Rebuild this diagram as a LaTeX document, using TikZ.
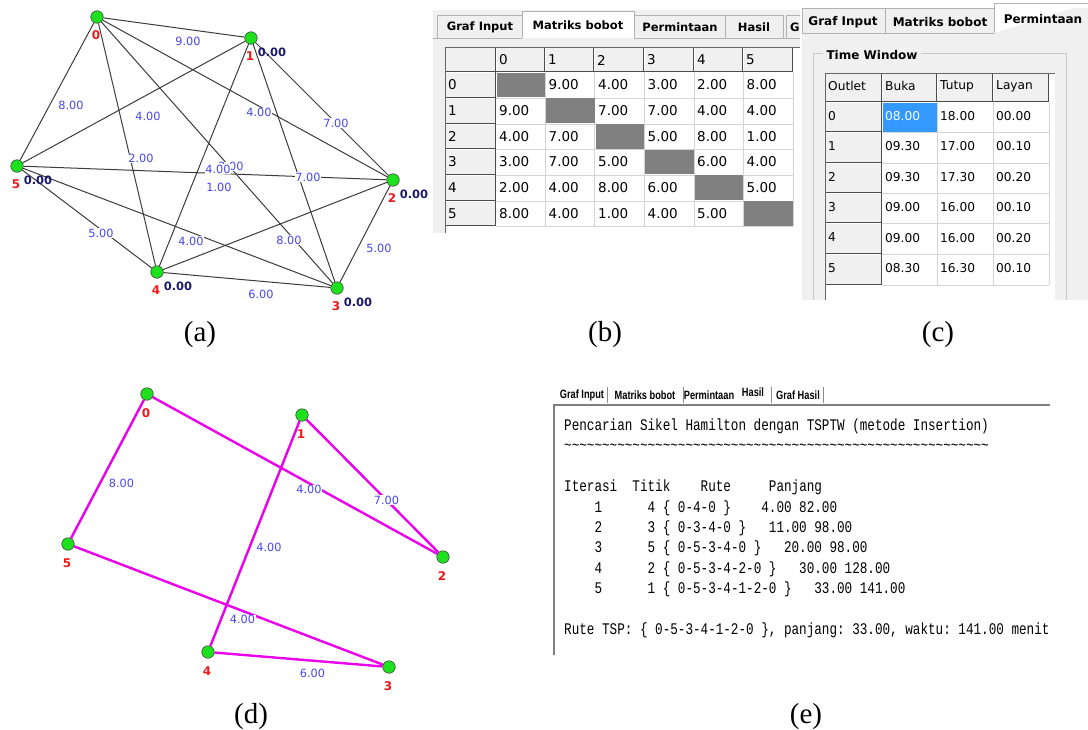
\documentclass[tikz,border=0pt]{standalone}
\usepackage{fontspec}
\setmainfont{Liberation Serif}
\newfontfamily\uifont{DejaVu Sans}
\newfontfamily\monofont[FakeStretch=0.78]{Liberation Mono}
\newfontfamily\tabfont[FakeStretch=0.77]{Liberation Sans}
\usetikzlibrary{calc}
\definecolor{lblue}{RGB}{70,70,240}
\definecolor{navyc}{RGB}{25,25,110}
\definecolor{nred}{RGB}{240,25,25}
\definecolor{ngreen}{RGB}{30,225,30}
\definecolor{mag}{RGB}{235,0,235}
\definecolor{uig}{RGB}{240,240,240}
\definecolor{gridc}{RGB}{212,212,212}
\definecolor{diagc}{RGB}{128,128,128}
\definecolor{selc}{RGB}{51,153,255}
\definecolor{edgec}{RGB}{60,60,60}
\newcommand\fs[1]{\fontsize{#1}{#1}\selectfont}
\newcommand\tlx{\string~\string~\string~\string~\string~\string~\string~\string~}
\newcommand\hcell[4]{%
  \fill[uig] (#1,#2) rectangle (#3,#4);
  \draw[white,line width=1] (#1+0.5,#4) -- (#1+0.5,#2+0.5) -- (#3,#2+0.5);
  \draw[black!70,line width=1.3] (#3-0.6,#2) -- (#3-0.6,#4-0.6) -- (#1,#4-0.6);}
\tikzset{
 vtx/.style={circle,fill=ngreen,draw=black!75,line width=0.6,minimum size=12.5,inner sep=0},
 nlab/.style={text=nred,font=\uifont\bfseries\fs{12},inner sep=0},
 zlab/.style={text=navyc,font=\uifont\bfseries\fs{11.5},inner sep=0},
 wlab/.style={text=lblue,fill=white,inner sep=0.6,font=\uifont\fs{11.3}},
 gedge/.style={draw=edgec,line width=1},
 pedge/.style={draw=mag,line width=2.4},
 caplab/.style={font=\fs{29}},
 btxt/.style={anchor=west,font=\uifont\fs{13.5},inner sep=0},
 ctxt/.style={anchor=west,font=\uifont\fs{12.2},inner sep=0},
 tabt/.style={font=\uifont\bfseries\fs{11.5},inner sep=0},
 ctabt/.style={font=\uifont\bfseries\fs{12},inner sep=0},
 mtxt/.style={anchor=west,font=\monofont\frenchspacing\fs{16.2},inner sep=0,text height=10,text depth=3},
 etab/.style={font=\tabfont\bfseries\fs{12},inner sep=0},
 tabedge/.style={draw=black!30,line width=0.8},
}
\begin{document}
\begin{tikzpicture}[x=1pt,y=-1pt]
\useasboundingbox (0,0) rectangle (1088,729);
\fill[white] (0,0) rectangle (1088,729);

% ================= (a) complete graph =================
\node[vtx] (a0) at (97,17) {};
\node[vtx] (a1) at (251,38) {};
\node[vtx] (a2) at (393,180) {};
\node[vtx] (a3) at (337,288) {};
\node[vtx] (a4) at (157,272) {};
\node[vtx] (a5) at (17,166) {};
\foreach \u/\v in {0/1,0/2,0/3,0/4,0/5,1/2,1/3,1/4,1/5,2/3,2/4,2/5,3/4,3/5,4/5}
  \draw[gedge] (a\u) -- (a\v);
\foreach \u/\v/\w in {0/1/9.00,0/2/4.00,0/3/3.00,0/4/2.00,0/5/8.00,1/2/7.00,1/3/7.00,1/4/4.00,1/5/4.00,2/3/5.00,2/4/8.00,2/5/1.00,3/4/6.00,3/5/4.00,4/5/5.00}
  \node[wlab] (aw\u\v) at ($(a\u)!0.5!(a\v)+(14,14)$) {\w};
\foreach \i in {0,...,5}
  \node[nlab] (an\i) at ($(a\i)+(-1,18)$) {\i};
\foreach \i in {1,...,5}
  \node[zlab] (az\i) at ($(a\i)+(21,14)$) {0.00};
\node[caplab] (capa) at (200,335) {(a)};

% ================= (b) weight matrix =================
\fill[uig] (433,10) rectangle (800,233);
\begin{scope}
\clip (433,0) rectangle (800,240);
\draw[tabedge,fill=uig] (437,38) -- (437,15) -- (522,15) -- (522,38);
\draw[tabedge,fill=uig] (634,38) -- (634,15) -- (725,15) -- (725,38);
\draw[tabedge,fill=uig] (725,38) -- (725,15) -- (783,15) -- (783,38);
\draw[tabedge,fill=uig] (786,38) -- (786,15) -- (830,15) -- (830,38);
\draw[tabedge] (433,38) -- (522,38) (634,38) -- (800,38);
\draw[tabedge,fill=white] (522,38) -- (522,11) -- (634,11) -- (634,38);
\node[tabt] (bt1) at (480,27) {Graf Input};
\node[tabt] (bt2) at (578,25) {Matriks bobot};
\node[tabt] (bt3) at (680,27) {Permintaan};
\node[tabt] (bt4) at (754,27) {Hasil};
\node[tabt,anchor=west] (bt5) at (790,27) {G};
\fill[white] (445,47) rectangle (800,233);
\foreach \x in {545,594,644,694,743,793}
  \draw[gridc] (\x,72) -- (\x,226);
\foreach \y in {98,124,149,175,201,226}
  \draw[gridc] (496,\y) -- (793,\y);
\foreach \i in {0,...,5}
  \fill[diagc] (496+49.5*\i+0.5,72+25.67*\i+0.5) rectangle (496+49.5*\i+49,72+25.67*\i+25.2);
\hcell{445}{47}{496}{72}
\foreach \xa/\xb/\t in {496/545/0,545/594/1,594/644/2,644/694/3,694/743/4,743/793/5}{
  \hcell{\xa}{47}{\xb}{72}
  \node[btxt] at (\xa+3,60) {\t};
}
\foreach \ya/\yb/\t in {72/98/0,98/124/1,124/149/2,149/175/3,175/201/4,201/226/5}{
  \hcell{445}{\ya}{496}{\yb}
  \node[btxt] at (448,{(\ya+\yb)/2}) {\t};
}
\draw[black!60,line width=1] (445.5,233) -- (445.5,47.5) -- (800,47.5);
\foreach \r/\vals in {0/{{},9.00,4.00,3.00,2.00,8.00},1/{9.00,{},7.00,7.00,4.00,4.00},2/{4.00,7.00,{},5.00,8.00,1.00},3/{3.00,7.00,5.00,{},6.00,4.00},4/{2.00,4.00,8.00,6.00,{},5.00},5/{8.00,4.00,1.00,4.00,5.00,{}}}{
  \foreach \v [count=\c from 0] in \vals
    \node[btxt] at (496+49.5*\c+3,85+25.67*\r) {\v};
}
\end{scope}
\node[caplab] (capb) at (605,335) {(b)};

% ================= (c) time window =================
\fill[uig] (802,8) rectangle (1088,300);
\draw[tabedge,fill=uig] (802,33) -- (802,8) -- (885,8) -- (885,33);
\draw[tabedge,fill=uig] (885,33) -- (885,8) -- (994,8) -- (994,33);
\draw[tabedge] (802,33) -- (994,33);
\draw[tabedge,fill=white] (994,33) -- (994,3) -- (1090,3);
\node[ctabt] (ct1) at (843,22) {Graf Input};
\node[ctabt] (ct2) at (940,22) {Matriks bobot};
\node[ctabt] (ct3) at (1043,19) {Permintaan};
\draw[black!22,line width=1] (823,53) -- (813,53) -- (813,300) (921,53) -- (1066,53) -- (1066,300);
\node[ctabt] (ctw) at (872,55) {Time Window};
\fill[white] (825,73) rectangle (1055,300);
\foreach \x in {937,993,1049}
  \draw[gridc] (\x,102) -- (\x,285);
\foreach \y in {132,163,193,223,254,285}
  \draw[gridc] (882,\y) -- (1049,\y);
\fill[selc] (882.5,102.5) rectangle (937,132);
\hcell{825}{73}{882}{102}
\hcell{882}{73}{937}{102}
\hcell{937}{73}{993}{102}
\hcell{993}{73}{1049}{102}
\node[ctxt] at (828,86) {Outlet};
\node[ctxt] at (885,86) {Buka};
\node[ctxt] at (940,86) {Tutup};
\node[ctxt] at (996,86) {Layan};
\foreach \ya/\yb/\t in {102/132/0,132/163/1,163/193/2,193/223/3,223/254/4,254/285/5}{
  \hcell{825}{\ya}{882}{\yb}
  \node[ctxt] at (828,{(\ya+\yb)/2-1}) {\t};
}
\draw[black!60,line width=1] (825.5,300) -- (825.5,73.5) -- (1055,73.5);
\node[ctxt,text=white] at (885,116) {08.00};
\node[ctxt] at (940,116) {18.00};
\node[ctxt] at (996,116) {00.00};
\foreach \r/\a/\b/\c in {1/09.30/17.00/00.10,2/09.30/17.30/00.20,3/09.00/16.00/00.10,4/09.00/16.00/00.20,5/08.30/16.30/00.10}{
  \node[ctxt] at (885,116+30.5*\r) {\a};
  \node[ctxt] at (940,116+30.5*\r) {\b};
  \node[ctxt] at (996,116+30.5*\r) {\c};
}
\node[caplab] (capc) at (938,335) {(c)};

% ================= (d) result graph =================
\node[vtx] (d0) at (147,394) {};
\node[vtx] (d1) at (302,415) {};
\node[vtx] (d2) at (443,557) {};
\node[vtx] (d3) at (389,667) {};
\node[vtx] (d4) at (208,652) {};
\node[vtx] (d5) at (68,544) {};
\foreach \u/\v in {0/5,5/3,3/4,4/1,1/2,2/0}
  \draw[pedge] (d\u) -- (d\v);
\foreach \u/\v/\w in {0/5/8.00,5/3/4.00,3/4/6.00,4/1/4.00,1/2/7.00,2/0/4.00}
  \node[wlab] (dw\u\v) at ($(d\u)!0.5!(d\v)+(14,14)$) {\w};
\foreach \i in {0,...,5}
  \node[nlab] (dn\i) at ($(d\i)+(-1,19)$) {\i};
\node[caplab] (capd) at (251,717) {(d)};

% ================= (e) result text =================
\node[etab] (et1) at (582,395) {Graf Input};
\node[etab] (et2) at (645,395) {Matriks bobot};
\node[etab] (et3) at (709,395) {Permintaan};
\node[etab] (et4) at (753,392) {Hasil};
\node[etab] (et5) at (798,395) {Graf Hasil};
\foreach \x in {607,683,771,823}
  \draw[black!45,line width=0.8] (\x,387) -- (\x,403);
\draw[black!50,line width=1.4] (554,655) -- (554,405) -- (1050,405);
\node[mtxt] (l1) at (564,427) {Pencarian Sikel Hamilton dengan TSPTW (metode Insertion)};
\node[mtxt] (l2) at (564,447.4) {\tlx\tlx\tlx\tlx\tlx\tlx\tlx};
\node[mtxt] (l4) at (564,488.2) {Iterasi~~Titik~~~~Rute~~~~~Panjang};
\node[mtxt] (l5) at (564,508.6) {~~~~1~~~~~~4~\{~0-4-0~\}~~~~4.00~82.00};
\node[mtxt] (l6) at (564,529) {~~~~2~~~~~~3~\{~0-3-4-0~\}~~~11.00~98.00};
\node[mtxt] (l7) at (564,549.4) {~~~~3~~~~~~5~\{~0-5-3-4-0~\}~~~20.00~98.00};
\node[mtxt] (l8) at (564,569.8) {~~~~4~~~~~~2~\{~0-5-3-4-2-0~\}~~~30.00~128.00};
\node[mtxt] (l9) at (564,590.2) {~~~~5~~~~~~1~\{~0-5-3-4-1-2-0~\}~~~33.00~141.00};
\node[mtxt] (l11) at (564,631) {Rute~TSP:~\{~0-5-3-4-1-2-0~\},~panjang:~33.00,~waktu:~141.00~menit};
\node[caplab] (cape) at (806,717) {(e)};
\end{tikzpicture}
\end{document}
